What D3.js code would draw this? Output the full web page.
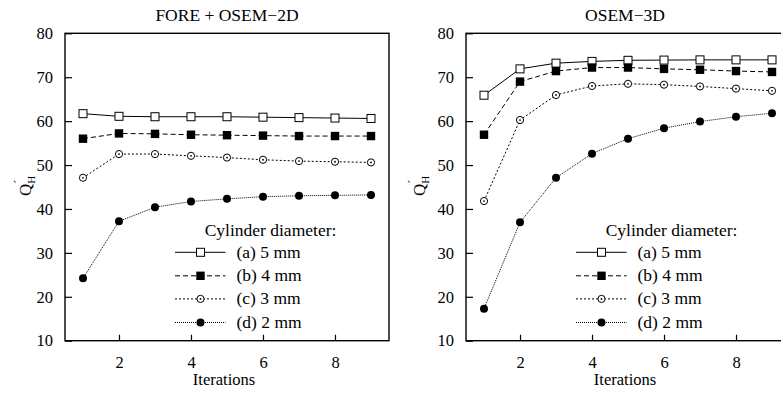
<!DOCTYPE html>
<html>
<head>
<meta charset="utf-8">
<script src="https://cdn.jsdelivr.net/npm/d3@7"></script>
<style>
  body { margin: 0; background: #fff; }
</style>
</head>
<body>
<svg id="chart" width="781" height="393"></svg>
<script>
// iterations on x axis
const iterations = [1, 2, 3, 4, 5, 6, 7, 8, 9];

// FORE + OSEM-2D
const fore5 = [61.7, 61.1, 61.0, 61.0, 61.0, 60.9, 60.8, 60.7, 60.6];
const fore4 = [56.0, 57.2, 57.1, 56.9, 56.8, 56.7, 56.6, 56.6, 56.6];
const fore3 = [47.1, 52.5, 52.5, 52.1, 51.7, 51.2, 50.9, 50.75, 50.6];
const fore2 = [24.2, 37.2, 40.4, 41.7, 42.3, 42.8, 43.0, 43.1, 43.2];

// OSEM-3D
const osem5 = [65.9, 71.9, 73.2, 73.6, 73.85, 73.9, 73.95, 73.95, 73.95];
const osem4 = [56.9, 69.0, 71.4, 72.2, 72.2, 71.9, 71.7, 71.4, 71.2];
const osem3 = [41.8, 60.25, 65.95, 68.0, 68.5, 68.3, 67.9, 67.4, 66.9];
const osem2 = [17.3, 36.95, 47.1, 52.6, 56.0, 58.4, 59.9, 61.0, 61.8];

const seriesLabels = ['(a) 5 mm', '(b) 4 mm', '(c) 3 mm', '(d) 2 mm'];
const yTicks = [10, 20, 30, 40, 50, 60, 70, 80];
const xTicks = [2, 4, 6, 8];

const panels = [
  { title: 'FORE + OSEM\u22122D', left: 65, titleX: 227, labelX: 31, series: [fore5, fore4, fore3, fore2] },
  { title: 'OSEM\u22123D', left: 466, titleX: 625, labelX: 425, series: [osem5, osem4, osem3, osem2] }
];

const styles = [
  { dash: null, marker: 'openSquare' },
  { dash: '5,3', marker: 'filledSquare' },
  { dash: '2,2', marker: 'dotCircle' },
  { dash: '1,1', marker: 'filledCircle' }
];

const FONT = '"Liberation Serif"';
const plotTop = 33.3, plotW = 324, plotH = 307.4;
const svg = d3.select('#chart');

const x = d3.scaleLinear().domain([0.5, 9.5]).range([0, plotW]);
const y = d3.scaleLinear().domain([10, 80]).range([plotH, 0]);

function drawMarker(g, kind, cx, cy) {
  if (kind === 'openSquare') {
    g.append('rect').attr('x', cx - 4).attr('y', cy - 4).attr('width', 8).attr('height', 8)
      .attr('fill', '#fff').attr('stroke', '#000').attr('stroke-width', 1);
  } else if (kind === 'filledSquare') {
    g.append('rect').attr('x', cx - 4.2).attr('y', cy - 4.2).attr('width', 8.4).attr('height', 8.4)
      .attr('fill', '#000');
  } else if (kind === 'dotCircle') {
    g.append('circle').attr('cx', cx).attr('cy', cy).attr('r', 3.6)
      .attr('fill', '#fff').attr('stroke', '#000').attr('stroke-width', 1);
    g.append('circle').attr('cx', cx).attr('cy', cy).attr('r', 0.9).attr('fill', '#000');
  } else {
    g.append('circle').attr('cx', cx).attr('cy', cy).attr('r', 4).attr('fill', '#000');
  }
}

function txt(sel, size) {
  return sel.style('font-family', FONT).style('font-size', size + 'px').attr('fill', '#000');
}

const line = d3.line().x((d, i) => x(iterations[i])).y(d => y(d));

panels.forEach(p => {
  const g = svg.append('g').attr('transform', `translate(${p.left},${plotTop})`);

  // y axis (ticks inward)
  const yAxis = d3.axisLeft(y).tickValues(yTicks).tickSize(-7).tickPadding(12);
  g.append('g').call(yAxis)
    .call(s => s.select('.domain').remove())
    .call(s => s.selectAll('line').attr('stroke', '#000').attr('stroke-width', 1.2))
    .call(s => txt(s.selectAll('text'), 16.5));

  const xAxis = d3.axisBottom(x).tickValues(xTicks).tickSize(-6).tickPadding(16);
  g.append('g').attr('transform', `translate(0,${plotH})`).call(xAxis)
    .call(s => s.select('.domain').remove())
    .call(s => s.selectAll('line').attr('stroke', '#000').attr('stroke-width', 1.2))
    .call(s => txt(s.selectAll('text'), 16.5));

  // frame
  g.append('rect').attr('width', plotW).attr('height', plotH)
    .attr('fill', 'none').attr('stroke', '#000').attr('stroke-width', 1.4);

  // series
  p.series.forEach((vals, k) => {
    g.append('path').datum(vals).attr('d', line)
      .attr('fill', 'none').attr('stroke', '#000').attr('stroke-width', 1)
      .attr('stroke-dasharray', styles[k].dash);
    vals.forEach((v, i) => drawMarker(g, styles[k].marker, x(iterations[i]), y(v)));
  });

  // legend
  const lg = g.append('g');
  txt(lg.append('text'), 17.5).attr('x', 205.5).attr('y', 236.5 - plotTop)
    .attr('text-anchor', 'middle').text('Cylinder diameter:');
  const rowY = [252.3, 275.8, 298.9, 322.5];
  seriesLabels.forEach((lab, k) => {
    const ry = rowY[k] - plotTop;
    lg.append('line').attr('x1', 110).attr('x2', 160.5).attr('y1', ry).attr('y2', ry)
      .attr('stroke', '#000').attr('stroke-width', 1).attr('stroke-dasharray', styles[k].dash);
    drawMarker(lg, styles[k].marker, 135.5, ry);
    txt(lg.append('text'), 17.5).attr('x', 171.5).attr('y', ry + 5.5).text(lab);
  });

  // titles
  txt(svg.append('text'), 17.5).attr('x', p.titleX).attr('y', 21)
    .attr('text-anchor', 'middle').text(p.title);
  txt(svg.append('text'), 16.5).attr('x', p.left + 159).attr('y', 385)
    .attr('text-anchor', 'middle').text('Iterations');

  // y label Q'_H
  const yl = txt(svg.append('text'), 17)
    .attr('transform', `translate(${p.labelX},196) rotate(-90)`);
  yl.append('tspan').text('Q');
  yl.append('tspan').style('font-size', '11px').attr('dy', 4).text('H');
  yl.append('tspan').style('font-size', '12px').attr('dx', -8).attr('dy', -12).text('\u00B4');
});
</script>
</body>
</html>
